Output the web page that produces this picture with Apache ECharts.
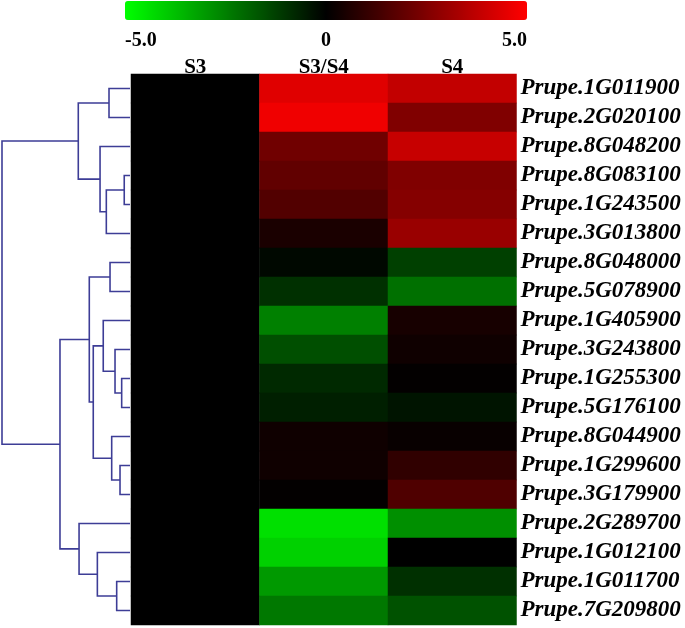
<!DOCTYPE html>
<html>
<head>
<meta charset="utf-8">
<script src="https://cdn.jsdelivr.net/npm/echarts@6/dist/echarts.min.js"></script>
<style>html,body{margin:0;padding:0;background:#fff;}#chart{width:685px;height:628px;}</style>
</head>
<body>
<div id="chart"></div>
<script>
// ---- data ----
const columns = ['S3', 'S3/S4', 'S4'];
const genes = ['Prupe.1G011900','Prupe.2G020100','Prupe.8G048200','Prupe.8G083100','Prupe.1G243500','Prupe.3G013800','Prupe.8G048000','Prupe.5G078900','Prupe.1G405900','Prupe.3G243800','Prupe.1G255300','Prupe.5G176100','Prupe.8G044900','Prupe.1G299600','Prupe.3G179900','Prupe.2G289700','Prupe.1G012100','Prupe.1G011700','Prupe.7G209800'];
const valS3   = [0, 0, 0, 0, 0, 0, 0, 0, 0, 0, 0, 0, 0, 0, 0, 0, 0, 0, 0];
const valS3S4 = [4.4, 4.7, 2.2, 1.9, 1.6, 0.5, -0.15, -0.95, -2.5, -1.55, -0.8, -0.6, 0.3, 0.3, 0.05, -4.4, -4.1, -3.0, -2.35];
const valS4   = [3.8, 2.5, 3.9, 2.5, 2.6, 3.0, -1.25, -2.2, 0.45, 0.3, 0.05, -0.4, 0.15, 0.95, 1.55, -2.8, 0, -0.95, -1.6];
const scaleTicks = ['-5.0', '0', '5.0'];
// hierarchical clustering merges: [childA, childB, height]; ids < 19 are leaves (rows), ids >= 19 are earlier merges
const merges = [
  [0, 1, 0.164], [3, 4, 0.045], [20, 5, 0.185], [2, 21, 0.234], [19, 22, 0.404],
  [6, 7, 0.156], [10, 11, 0.065], [9, 25, 0.117], [8, 26, 0.209], [13, 14, 0.078],
  [12, 28, 0.143], [27, 29, 0.287], [24, 30, 0.318], [17, 18, 0.104], [16, 32, 0.255],
  [15, 33, 0.398], [31, 34, 0.547], [23, 35, 1.0]
];

// ---- build ----
const colVals = [valS3, valS3S4, valS4];
const heatData = [];
colVals.forEach((arr, ci) => arr.forEach((v, ri) => heatData.push([ci, ri, v])));

const nodes = genes.map((g, i) => ({ y: i, h: 0 }));
const dendroLines = [];
merges.forEach(([a, b, h]) => {
  const A = nodes[a], B = nodes[b];
  dendroLines.push({ coords: [[A.h, A.y], [h, A.y], [h, B.y], [B.h, B.y]] });
  nodes.push({ y: (A.y + B.y) / 2, h: h });
});

const serif = "'Liberation Serif', 'Times New Roman', serif";
const chart = echarts.init(document.getElementById('chart'));
chart.setOption({
  animation: false,
  backgroundColor: '#fff',
  grid: [
    { left: 131, right: 168.5, top: 74, height: 551 },
    { left: 2, right: 555, top: 74, height: 551 },
    { left: 125, width: 402, top: 1, height: 19 }
  ],
  xAxis: [
    { type: 'category', gridIndex: 0, data: columns, position: 'top',
      axisLine: { show: false }, axisTick: { show: false }, splitLine: { show: false },
      axisLabel: { fontFamily: serif, fontWeight: 'bold', fontSize: 21, color: '#000', margin: -4, interval: 0 } },
    { type: 'value', gridIndex: 1, min: 0, max: 1, inverse: true, show: false },
    { type: 'value', gridIndex: 2, min: -5, max: 5, interval: 5, position: 'bottom',
      axisLine: { show: false }, axisTick: { show: false }, splitLine: { show: false },
      axisLabel: { fontFamily: serif, fontWeight: 'bold', fontSize: 20, color: '#000', margin: 11,
        alignMinLabel: 'left', alignMaxLabel: 'right',
        formatter: v => scaleTicks[Math.round((v + 5) / 5)] } }
  ],
  yAxis: [
    { type: 'category', gridIndex: 0, data: genes, inverse: true, position: 'right',
      axisLine: { show: false }, axisTick: { show: false }, splitLine: { show: false },
      axisLabel: { fontFamily: serif, fontWeight: 'bold', fontStyle: 'italic', fontSize: 23, color: '#000', margin: 4, interval: 0, hideOverlap: false } },
    { type: 'value', gridIndex: 1, min: -0.5, max: 18.5, inverse: true, show: false },
    { type: 'value', gridIndex: 2, min: 0, max: 1, show: false }
  ],
  visualMap: {
    type: 'continuous', min: -5, max: 5, orient: 'horizontal', seriesIndex: 0, dimension: 2,
    left: 125, top: 1, itemWidth: 19, itemHeight: 402, padding: 0, calculable: false,
    showLabel: false, text: null, hoverLink: false,
    inRange: { color: ['#00ff00', '#000000', '#ff0000'] }
  },
  series: [
    { type: 'heatmap', xAxisIndex: 0, yAxisIndex: 0, data: heatData, itemStyle: { borderWidth: 0 }, emphasis: { disabled: true } },
    { type: 'lines', coordinateSystem: 'cartesian2d', xAxisIndex: 1, yAxisIndex: 1, polyline: true,
      data: dendroLines, silent: true,
      lineStyle: { color: '#3d3d96', width: 1.6, opacity: 1 } }
  ]
});
</script>
</body>
</html>
